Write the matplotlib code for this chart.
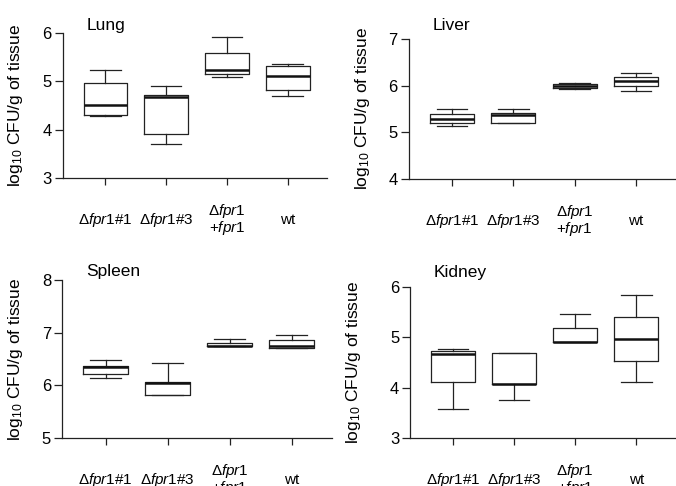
import matplotlib.pyplot as plt

plt.rcParams['font.family'] = ['Liberation Sans', 'DejaVu Sans']
plt.rcParams['mathtext.fontset'] = 'custom'
plt.rcParams['mathtext.rm'] = 'Liberation Sans'
plt.rcParams['mathtext.it'] = 'Liberation Sans:italic'

# --- DATA (log10 CFU/g) ---
groups = [r'$\Delta\mathit{fpr1\#1}$', r'$\Delta\mathit{fpr1\#3}$',
          '$\\Delta\\mathit{fpr1}$\n$+\\mathit{fpr1}$', 'wt']

# each list: one value per group, order as in `groups`
lung_lo = [4.29, 3.71, 5.09, 4.69]
lung_q1 = [4.30, 3.90, 5.16, 4.83]
lung_med = [4.50, 4.68, 5.24, 5.12]
lung_q3 = [4.97, 4.72, 5.59, 5.32]
lung_hi = [5.23, 4.90, 5.91, 5.36]

liver_lo = [5.14, 5.19, 5.93, 5.89]
liver_q1 = [5.19, 5.19, 5.95, 5.98]
liver_med = [5.29, 5.36, 5.99, 6.09]
liver_q3 = [5.39, 5.41, 6.03, 6.19]
liver_hi = [5.49, 5.49, 6.05, 6.26]

spleen_lo = [6.14, 5.82, 6.74, 6.71]
spleen_q1 = [6.21, 5.82, 6.74, 6.71]
spleen_med = [6.35, 6.04, 6.75, 6.75]
spleen_q3 = [6.37, 6.07, 6.81, 6.86]
spleen_hi = [6.48, 6.43, 6.88, 6.96]

kidney_lo = [3.58, 3.76, 4.90, 4.12]
kidney_q1 = [4.12, 4.08, 4.90, 4.53]
kidney_med = [4.67, 4.08, 4.90, 4.96]
kidney_q3 = [4.73, 4.68, 5.18, 5.41]
kidney_hi = [4.76, 4.68, 5.47, 5.83]

# panel: (title, stats, y range, axes rect, ylabel x offset, title y)
panels = [
    ('Lung', (lung_lo, lung_q1, lung_med, lung_q3, lung_hi), (3, 6),
     [0.093, 0.634, 0.391, 0.298], -0.144, 1.02),
    ('Liver', (liver_lo, liver_q1, liver_med, liver_q3, liver_hi), (4, 7),
     [0.605, 0.632, 0.395, 0.288], -0.139, 1.064),
    ('Spleen', (spleen_lo, spleen_q1, spleen_med, spleen_q3, spleen_hi), (5, 8),
     [0.092, 0.0988, 0.399, 0.325], -0.137, 1.025),
    ('Kidney', (kidney_lo, kidney_q1, kidney_med, kidney_q3, kidney_hi), (3, 6),
     [0.607, 0.0988, 0.393, 0.311], -0.18, 1.066),
]

fig = plt.figure(figsize=(6.76, 4.86), dpi=100)

for title, (lo, q1, med, q3, hi), ylim, rect, lab_x, title_y in panels:
    ax = fig.add_axes(rect)
    stats = [dict(whislo=lo[i], q1=q1[i], med=med[i], q3=q3[i], whishi=hi[i], fliers=[])
             for i in range(len(groups))]
    line = dict(color='#222222', linewidth=0.9)
    ax.bxp(stats, positions=[1, 2, 3, 4], widths=0.72, capwidths=0.5,
           showfliers=False, manage_ticks=False,
           boxprops=line, whiskerprops=line, capprops=line,
           medianprops=dict(color='#111111', linewidth=1.8))

    ax.set_xlim(0.3, 4.65)
    ax.set_ylim(*ylim)
    ax.set_yticks(range(ylim[0], ylim[1] + 1))
    ax.set_xticks([1, 2, 3, 4])
    ax.set_xticklabels(groups, va='center', linespacing=0.95)

    for s in ['top', 'right']:
        ax.spines[s].set_visible(False)
    for s in ['left', 'bottom']:
        ax.spines[s].set_linewidth(0.9)
        ax.spines[s].set_color('#222222')

    ax.tick_params(axis='x', length=5, width=0.9, pad=25, labelsize=11, color='#222222')
    ax.tick_params(axis='y', length=6, width=0.9, pad=2, labelsize=12, color='#222222')

    ax.set_ylabel(r'log$_{10}$ CFU/g of tissue', fontsize=12.5)
    ax.yaxis.set_label_coords(lab_x, 0.5)
    ax.text(0.088, title_y, title, transform=ax.transAxes, fontsize=12.5,
            ha='left', va='baseline')

fig.savefig('out.png', dpi=100)
